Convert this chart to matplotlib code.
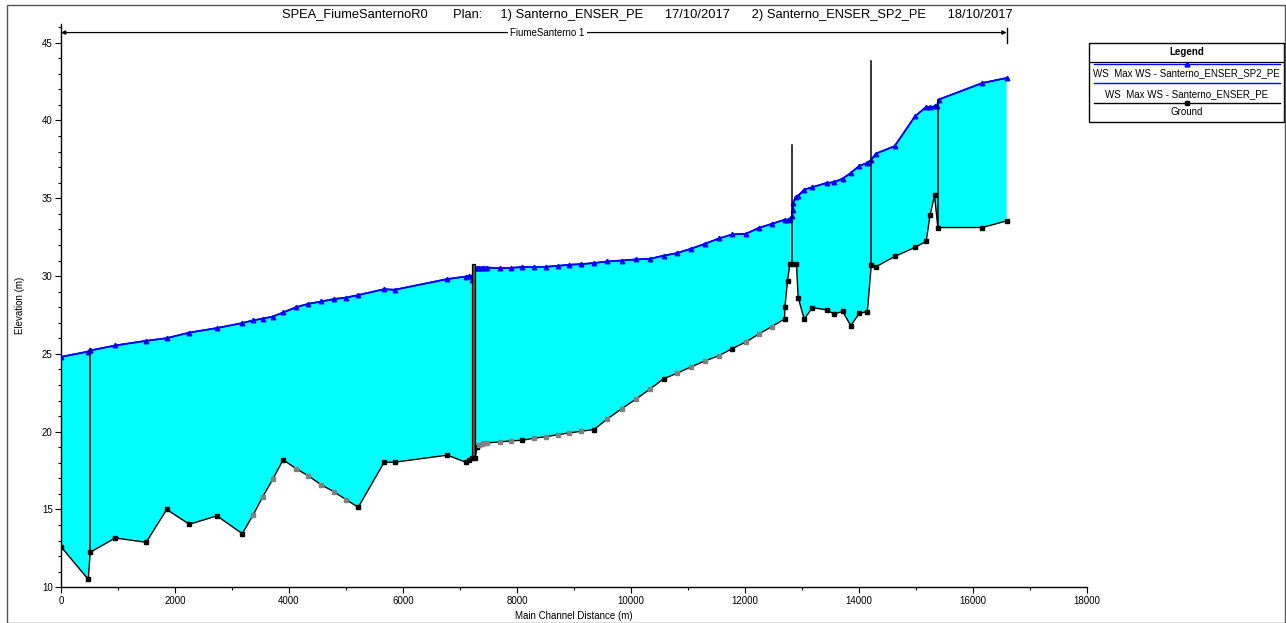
import matplotlib
matplotlib.use("Agg")
import matplotlib.pyplot as plt
from matplotlib.patches import Rectangle
from matplotlib.lines import Line2D
import numpy as np

plt.rcParams.update({
    'font.family': ['Liberation Sans', 'DejaVu Sans'],
    'font.size': 7,
})

TITLE = ('SPEA_FiumeSanternoR0       Plan:     1) Santerno_ENSER_PE      17/10/2017      '
         '2) Santerno_ENSER_SP2_PE      18/10/2017')
REACH = 'FiumeSanterno 1'
LEGEND_LABELS = ['WS  Max WS - Santerno_ENSER_SP2_PE', 'WS  Max WS - Santerno_ENSER_PE', 'Ground']

# ground profile (station m, elevation m, 1 = interpolated section)
gnd_x = [0, 478, 513, 951, 1494, 1855, 2252, 2736, 3180, 3367, 3542, 3717, 3897, 4124, 4340,
         4568, 4783, 5005, 5215, 5670, 5851, 6779, 7100, 7158, 7205, 7263, 7303, 7340, 7380,
         7420, 7470, 7695, 7893, 8091, 8301, 8511, 8721, 8920, 9130, 9351, 9585, 9835, 10086,
         10331, 10571, 10810, 11055, 11300, 11545, 11778, 12018, 12239, 12473, 12694, 12700,
         12746, 12786, 12845, 12903, 12933, 13038, 13183, 13430, 13565, 13712, 13855, 14006,
         14146, 14216, 14298, 14625, 14981, 15178, 15248, 15325, 15383, 16165, 16590]
gnd_z = [12.61, 10.51, 12.25, 13.17, 12.89, 15.00, 14.05, 14.59, 13.45, 14.63, 15.83, 16.96,
         18.19, 17.63, 17.16, 16.58, 16.15, 15.63, 15.14, 18.04, 18.04, 18.49, 18.04, 18.19,
         18.33, 18.30, 19.00, 19.15, 19.22, 19.26, 19.28, 19.34, 19.41, 19.45, 19.58, 19.68,
         19.81, 19.92, 20.03, 20.14, 20.82, 21.47, 22.09, 22.73, 23.40, 23.76, 24.17, 24.55,
         24.89, 25.34, 25.77, 26.27, 26.76, 27.24, 28.00, 29.68, 30.75, 30.75, 30.75, 28.62,
         27.24, 27.97, 27.83, 27.56, 27.73, 26.82, 27.60, 27.72, 30.73, 30.60, 31.26, 31.84,
         32.23, 33.94, 35.18, 33.12, 33.12, 33.55]
gnd_interp = [0, 0, 0, 0, 0, 0, 0, 0, 0, 1, 1, 1, 0, 1, 1, 1, 1, 1, 0, 0, 0, 0, 0, 0, 0, 0, 0,
              1, 1, 1, 1, 1, 1, 0, 1, 1, 1, 1, 1, 0, 1, 1, 1, 1, 0, 1, 1, 1, 1, 0, 1, 1, 1, 0,
              0, 0, 0, 0, 0, 0, 0, 0, 0, 0, 0, 0, 0, 0, 0, 0, 0, 0, 0, 0, 0, 0, 0, 0]

# max water surface
ws_x = [0, 478, 508, 513, 951, 1494, 1855, 2252, 2736, 3180, 3367, 3542, 3717, 3897, 4124,
        4340, 4568, 4783, 5005, 5215, 5670, 5851, 6779, 7100, 7158, 7205, 7216, 7263, 7303,
        7340, 7380, 7420, 7470, 7695, 7893, 8091, 8301, 8511, 8721, 8920, 9130, 9351, 9585,
        9835, 10086, 10331, 10571, 10810, 11055, 11300, 11545, 11778, 12018, 12239, 12473,
        12694, 12746, 12786, 12820, 12835, 12850, 12886, 12933, 13038, 13183, 13430, 13565,
        13712, 13855, 14006, 14146, 14216, 14298, 14625, 14981, 15178, 15248, 15325, 15372,
        15396, 16165, 16590]
ws_z = [24.81, 25.15, 25.28, 25.22, 25.54, 25.84, 26.01, 26.37, 26.66, 26.98, 27.15, 27.27,
        27.40, 27.66, 28.00, 28.22, 28.37, 28.52, 28.62, 28.78, 29.16, 29.12, 29.81, 29.97,
        29.99, 30.00, 29.76, 30.51, 30.55, 30.55, 30.55, 30.55, 30.55, 30.51, 30.53, 30.58,
        30.58, 30.60, 30.66, 30.73, 30.77, 30.84, 30.94, 31.00, 31.07, 31.11, 31.31, 31.48,
        31.76, 32.08, 32.42, 32.68, 32.72, 33.09, 33.36, 33.62, 33.60, 33.65, 33.83, 34.26,
        34.69, 35.08, 35.16, 35.55, 35.72, 35.98, 36.04, 36.26, 36.62, 37.09, 37.27, 37.48,
        37.87, 38.35, 40.26, 40.87, 40.87, 40.90, 40.95, 41.34, 42.41, 42.73]

# inline structures drawn as vertical lines (station, bottom, top)
struct_x = [513, 12828, 14216, 15383]
struct_lo = [12.25, 30.75, 30.73, 33.12]
struct_hi = [25.20, 38.45, 43.85, 41.30]
bridge_x = [7216, 7263]
bridge_z = [18.30, 30.77]

W, H = 1286, 623
fig = plt.figure(figsize=(W / 100, H / 100), dpi=100)
fig.patches.append(Rectangle((7 / W, 0.5 / H), 1278 / W, (H - 5.5) / H, transform=fig.transFigure,
                             fill=False, edgecolor='#555555', linewidth=1.0))

ax = fig.add_axes([61 / W, (H - 587.3) / H, (1087 - 61) / W, (587.3 - 24) / H])

gx = np.array(gnd_x)
gz = np.array(gnd_z)
wx = np.array(ws_x)
wz = np.array(ws_z)
flag = np.array(gnd_interp, dtype=bool)

ax.fill(np.concatenate([wx, gx[::-1]]), np.concatenate([wz, gz[::-1]]),
        color='#00ffff', linewidth=0, zorder=1)

ax.plot(wx, wz, color='#0000ff', linewidth=1.2, zorder=2)
ax.plot(wx, wz, color='#0000ff', linewidth=1.2, marker='^', markersize=3.3, zorder=3)

ax.plot(gx, gz, color='black', linewidth=1.0, zorder=4)
ax.plot(gx[~flag], gz[~flag], 's', color='black', markersize=3.2, zorder=5)
ax.plot(gx[flag], gz[flag], 's', color='#808080', markersize=3.2, zorder=5)

for sx, lo, hi in zip(struct_x, struct_lo, struct_hi):
    ax.plot([sx, sx], [lo, hi], color='black', linewidth=1.1, zorder=4)
ax.add_patch(Rectangle((bridge_x[0], bridge_z[0]), bridge_x[1] - bridge_x[0],
                       bridge_z[1] - bridge_z[0], facecolor='#506050', edgecolor='black',
                       linewidth=0.9, zorder=4))

# reach arrow
ry = 45.65
ax.annotate('', xy=(0, ry), xytext=(gx[-1], ry),
            arrowprops=dict(arrowstyle='<|-|>', color='black', lw=0.9,
                            mutation_scale=6, shrinkA=0, shrinkB=0), zorder=6)
ax.plot([gx[-1], gx[-1]], [45.0, 45.95], color='black', linewidth=1.0, clip_on=False)
ax.text(8535, ry, REACH, ha='center', va='center', fontsize=7,
        bbox=dict(facecolor='white', edgecolor='none', pad=1.5), zorder=7)

ax.set_xlim(0, 18000)
ax.set_ylim(10, 46.2)
ax.set_xticks(np.arange(0, 18001, 2000))
ax.set_xticks(np.arange(0, 18001, 1000), minor=True)
ax.set_yticks(np.arange(10, 46, 5))
ax.set_yticks(np.arange(10, 46.2, 1), minor=True)
ax.tick_params(which='major', direction='out', length=4, width=0.8, labelsize=7, pad=2)
ax.tick_params(which='minor', direction='out', length=2.5, width=0.8)
for side in ['top', 'right']:
    ax.spines[side].set_visible(False)
for side in ['left', 'bottom']:
    ax.spines[side].set_linewidth(1.0)

ax.set_xlabel('Main Channel Distance (m)', fontsize=7, labelpad=4)
ax.set_ylabel('Elevation (m)', fontsize=7, labelpad=12)

fig.text(0.503, 1 - 15 / H, TITLE, ha='center', va='center', fontsize=9.3)

# legend box
lg = fig.add_axes([1089 / W, (H - 122) / H, 195 / W, 79 / H])
lg.set_xlim(0, 1)
lg.set_ylim(0, 1)
lg.axis('off')
lg.add_patch(Rectangle((0, 0), 1, 1, fill=False, edgecolor='black', linewidth=1.0,
                       transform=lg.transAxes, clip_on=False))
lg.add_line(Line2D([0, 1], [0.76, 0.76], color='black', linewidth=0.9))
lg.text(0.5, 0.885, 'Legend', ha='center', va='center', fontsize=7, fontweight='bold')
lg.plot([0.026, 0.979], [0.735, 0.735], color='#0000ff', linewidth=1.0)
lg.plot([0.5], [0.735], '^', color='#0000ff', markersize=3.5)
lg.text(0.5, 0.62, LEGEND_LABELS[0], ha='center', va='center', fontsize=7)
lg.plot([0.026, 0.979], [0.49, 0.49], color='#0000ff', linewidth=1.0)
lg.text(0.5, 0.354, LEGEND_LABELS[1], ha='center', va='center', fontsize=7)
lg.plot([0.026, 0.979], [0.237, 0.237], color='black', linewidth=1.0)
lg.plot([0.5], [0.237], 's', color='black', markersize=3.2)
lg.text(0.5, 0.13, LEGEND_LABELS[2], ha='center', va='center', fontsize=7)

fig.savefig('out.png', dpi=100)
